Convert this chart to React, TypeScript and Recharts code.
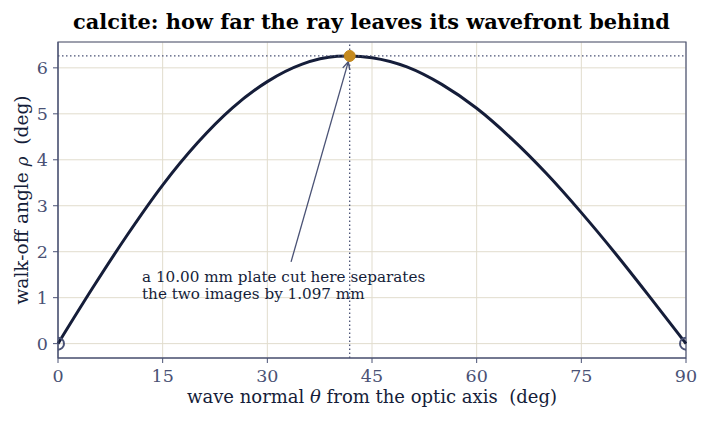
import React from 'react';
import {
  LineChart, Line, XAxis, YAxis, CartesianGrid, ReferenceLine, ReferenceDot, ReferenceArea,
} from 'recharts';

// wave-normal angle from the optic axis (deg) and walk-off angle (deg)
const theta = [0, 5, 10, 15, 20, 25, 30, 35, 40, 41.8, 45, 50, 55, 60, 65, 70, 75, 80, 85, 90];
const rho = [0, 1.22, 2.38, 3.45, 4.37, 5.13, 5.70, 6.08, 6.25, 6.26, 6.22, 6.02, 5.64, 5.12, 4.46, 3.70, 2.85, 1.94, 0.98, 0];

const xTicks = [0, 15, 30, 45, 60, 75, 90];
const yTicks = [0, 1, 2, 3, 4, 5, 6];

const peakTheta = 41.8;
const peakRho = 6.26;
const noteLines = ['a 10.00 mm plate cut here separates', 'the two images by 1.097 mm'];

const data = theta.map((t, i) => ({ theta: t, rho: rho[i] }));

const INK = '#151d39';
const SLATE = '#4a5275';
const GRID = '#e1dccd';
const FONT = '"DejaVu Serif", serif';

const Note = (props: any) => {
  const { x, y } = props.viewBox;
  return (
    <text x={x} y={y} fill={INK} fontSize={15.2} fontFamily={FONT}>
      {noteLines.map((l, i) => (
        <tspan key={i} x={x} dy={i === 0 ? 0 : 17.6}>{l}</tspan>
      ))}
    </text>
  );
};

const XLabel = (props: any) => {
  const { x, y, width } = props.viewBox;
  return (
    <text x={x + width / 2} y={y + 45} textAnchor="middle" fill={INK} fontSize={18} fontFamily={FONT}>
      wave normal <tspan fontStyle="italic">θ</tspan> from the optic axis{'\u00a0\u00a0'}(deg)
    </text>
  );
};

const YLabel = (props: any) => {
  const { y, height } = props.viewBox;
  const cx = 28;
  const cy = y + height / 2;
  return (
    <text x={cx} y={cy} transform={`rotate(-90 ${cx} ${cy})`} textAnchor="middle" fill={INK} fontSize={18.6} fontFamily={FONT}>
      walk-off angle <tspan fontStyle="italic" fontSize={16.5}>ρ</tspan>{'\u00a0\u00a0'}(deg)
    </text>
  );
};

export default function App() {
  return (
    <div style={{ position: 'absolute', left: 0, top: 0, width: 708, height: 422, background: '#fff' }}>
      <LineChart width={708} height={422} data={data} margin={{ top: 42, right: 22, left: 0, bottom: 0 }}>
        <defs>
          <marker id="arrowHead" viewBox="0 0 10 10" refX="9" refY="5" markerWidth="7" markerHeight="7" orient="auto">
            <path d="M1,1 L9,5 L1,9" fill="none" stroke={SLATE} strokeWidth={1.6} />
          </marker>
        </defs>
        <text x={371.5} y={28.5} textAnchor="middle" fontFamily={FONT} fontWeight="bold" fontSize={20.9} fill="#000">
          calcite: how far the ray leaves its wavefront behind
        </text>
        <CartesianGrid stroke={GRID} strokeWidth={1} />
        <XAxis
          dataKey="theta" type="number" domain={[0, 90]} ticks={xTicks} height={64}
          stroke={SLATE} tickSize={5} tickMargin={7}
          tick={{ fill: SLATE, fontSize: 17.5, fontFamily: FONT }}
          label={{ content: XLabel }}
        />
        <YAxis
          type="number" domain={[-0.3125, 6.5625]} ticks={yTicks} width={58}
          stroke={SLATE} tickSize={5} tickMargin={5}
          tick={{ fill: SLATE, fontSize: 17.5, fontFamily: FONT }}
          label={{ content: YLabel }}
        />
        <ReferenceArea x1={0} x2={90} y1={-0.3125} y2={6.5625} fill="none" stroke={SLATE} strokeWidth={1.2} fillOpacity={0} />
        <Line type="monotone" dataKey="rho" stroke={INK} strokeWidth={3} dot={false} isAnimationActive={false} />
        <ReferenceDot x={peakTheta} y={peakRho} r={5.5} fill="#c58a1f" stroke="#c58a1f" />
        <ReferenceLine y={peakRho} stroke={SLATE} strokeDasharray="1.5 2.5" strokeWidth={1.3} />
        <ReferenceLine x={peakTheta} stroke={SLATE} strokeDasharray="1.5 2.5" strokeWidth={1.3} />
        <ReferenceLine
          segment={[{ x: 33.4, y: 1.78 }, { x: 41.6, y: 6.13 }]}
          stroke={SLATE} strokeWidth={1.3} markerEnd="url(#arrowHead)"
        />
        <ReferenceDot x={0} y={0} r={6} fill="none" stroke={SLATE} strokeWidth={2} ifOverflow="hidden" />
        <ReferenceDot x={90} y={0} r={6} fill="none" stroke={SLATE} strokeWidth={2} ifOverflow="hidden" />
        <ReferenceDot x={12.04} y={1.347} r={0} fill="none" stroke="none" label={Note} />
      </LineChart>
    </div>
  );
}
